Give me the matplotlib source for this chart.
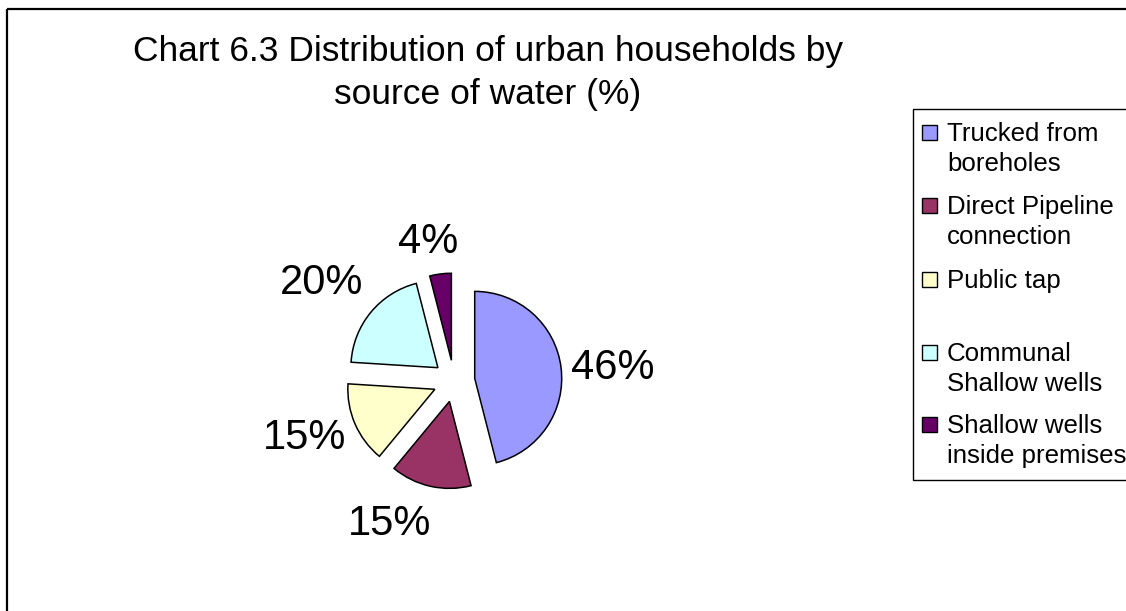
import matplotlib
matplotlib.use("Agg")
import matplotlib.pyplot as plt
from matplotlib.patches import Rectangle
import numpy as np

# ---- data ----
categories = ["Trucked from\nboreholes", "Direct Pipeline\nconnection", "Public tap\n",
              "Communal\nShallow wells", "Shallow wells\ninside premises"]
values = [46, 15, 15, 20, 4]
value_labels = ["46%", "15%", "15%", "20%", "4%"]
colors = ["#9999FF", "#993366", "#FFFFCC", "#CCFFFF", "#660066"]
title = "Chart 6.3 Distribution of urban households by\nsource of water (%)"

plt.rcParams['font.family'] = ['Liberation Sans', 'DejaVu Sans']

W, H = 1126, 611
fig = plt.figure(figsize=(W / 100, H / 100), dpi=100)

# overlay axes in pixel coordinates for frame / legend / title
ov = fig.add_axes([0, 0, 1, 1])
ov.set_xlim(0, W)
ov.set_ylim(H, 0)
ov.axis("off")
ov.add_patch(Rectangle((7, 9), W + 20, H + 20, fill=False, edgecolor="#000000", lw=1.6))

ov.text(488, 73, title, ha="center", va="center", fontsize=25.5, linespacing=1.36)

# ---- pie ----
cx, cy, R = 454, 381, 87
half = 200
ax = fig.add_axes([(cx - half) / W, (H - cy - half) / H, 2 * half / W, 2 * half / H])
wedges, _ = ax.pie(values, colors=colors, startangle=90, counterclock=False,
                   explode=[0.24] * len(values), radius=1,
                   wedgeprops=dict(edgecolor="black", linewidth=1.1))
lim = half / R
ax.set_aspect("auto")
ax.set_xlim(-lim, lim)
ax.set_ylim(-lim, lim)
ax.axis("off")

label_dist = [1.83, 1.80, 1.84, 1.89, 1.62]
label_rot = [-2.5, -11.5, -2.5, 3.0, 3.2]
for w, lab, d, dr in zip(wedges, value_labels, label_dist, label_rot):
    mid = np.deg2rad((w.theta1 + w.theta2) / 2 + dr)
    ax.text(d * np.cos(mid), d * np.sin(mid), lab, ha="center", va="center", fontsize=30)

# ---- legend (manual, Excel-like) ----
ov.add_patch(Rectangle((913, 109), 250, 371, fill=True, facecolor="white",
                       edgecolor="#000000", lw=1.0))
row_top = [123, 196, 270, 343, 415]
for lab, col, yt in zip(categories, colors, row_top):
    ov.add_patch(Rectangle((922, yt + 2), 15, 15, facecolor=col, edgecolor="black", lw=1.0))
    ov.text(947, yt - 1, lab, ha="left", va="top", fontsize=18.6, linespacing=1.34)

fig.savefig("out.png", dpi=100)
